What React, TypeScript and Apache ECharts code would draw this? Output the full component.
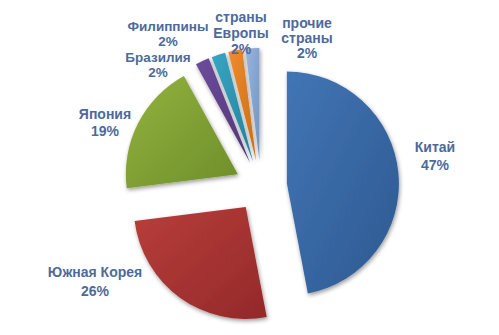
import React, { useEffect, useRef } from "react";
import * as echarts from "echarts";

const categories = ["Китай", "Южная Корея", "Япония", "Бразилия", "Филиппины", "страны\nЕвропы", "прочие\nстраны"];
const values = [47, 26, 19, 2, 2, 2, 2];
const baseColors = ["#4275b5", "#b83e3a", "#92b23f", "#6d4c9c", "#38a6c3", "#f08c2e", "#97b5de"];
const darkColors = ["#2e5990", "#93292a", "#6e8e2a", "#523578", "#23809c", "#c86c16", "#7293c2"];

const labelPositions: [number, number][] = [
  [435, 156],
  [95, 281],
  [105, 122],
  [158, 65],
  [168, 34],
  [241, 33],
  [307, 38],
];
const labelLineHeights = [18, 19, 17, 15, 15, 16, 15];
const labelFontSizes = [14, 14, 14, 13.5, 13.5, 14, 14];

export default function App() {
  const ref = useRef<HTMLDivElement>(null);
  useEffect(() => {
    if (!ref.current) return;
    const chart = echarts.init(ref.current, null, { renderer: "svg" });
    const data = categories.map((name, i) => ({
      name,
      value: values[i],
      selected: true,
      itemStyle: {
        color: {
          type: "linear",
          x: 0,
          y: 0,
          x2: 1,
          y2: 1,
          colorStops: [
            { offset: 0, color: baseColors[i] },
            { offset: 1, color: darkColors[i] },
          ],
        },
      },
    }));
    const labels = categories.map((name, i) => ({
      type: "text",
      x: labelPositions[i][0],
      y: labelPositions[i][1],
      z: 10,
      style: {
        text: `${name}\n${values[i]}%`,
        align: "center",
        verticalAlign: "middle",
        fill: "#4d6a9c",
        fontFamily: "Liberation Sans, Arial, sans-serif",
        fontWeight: "bold",
        fontSize: labelFontSizes[i],
        lineHeight: labelLineHeights[i],
      },
    }));
    chart.setOption({
      animation: false,
      graphic: labels,
      series: [
        {
          type: "pie",
          center: [261, 186],
          radius: [0, 112],
          startAngle: 90,
          clockwise: true,
          selectedMode: "multiple",
          selectedOffset: 26,
          data,
          itemStyle: {
            borderWidth: 0,
            shadowBlur: 4,
            shadowColor: "rgba(0,0,0,0.4)",
            shadowOffsetX: 1,
            shadowOffsetY: 2,
          },
          label: { show: false },
          labelLine: { show: false },
          emphasis: { disabled: true },
        },
      ],
    });
    return () => chart.dispose();
  }, []);
  return (
    <div
      ref={ref}
      style={{ position: "absolute", left: 0, top: 0, width: 499, height: 335, background: "#fff" }}
    />
  );
}
